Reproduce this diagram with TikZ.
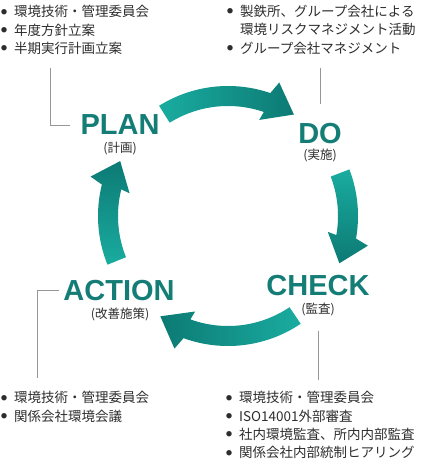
\documentclass[tikz,border=0pt]{standalone}
\usepackage{fontspec}
\setmainfont{Noto Sans CJK JP}
\newfontfamily\titlefont{Liberation Sans}
\definecolor{tealdark}{RGB}{12,122,116}
\definecolor{teallight}{RGB}{26,172,160}
\definecolor{tealtext}{RGB}{20,125,118}
\definecolor{bodygray}{RGB}{45,45,45}
\definecolor{leadgray}{RGB}{150,150,150}
\newcommand{\dotitem}{\makebox[13pt][l]{\raisebox{2.6pt}{\fontsize{6}{6}\selectfont ●}}}
\newcommand{\dotskip}{\hspace*{13pt}}
\begin{document}
\begin{tikzpicture}[x=1pt, y=1pt]
    \tikzstyle{title} = [anchor=base, inner sep=0, text=tealtext, font=\titlefont\bfseries\fontsize{29}{29}\selectfont]
    \tikzstyle{sub} = [anchor=base, inner sep=0, text=bodygray, font=\fontsize{12.5}{14}\selectfont]
    \tikzstyle{list} = [anchor=north west, inner sep=0, align=left, text=bodygray, font=\fontsize{13.5}{18.4}\selectfont]
    \tikzstyle{lead} = [draw=leadgray, line width=0.9pt]
    \tikzstyle{cyc} = [top color=tealdark, bottom color=teallight]
    \useasboundingbox (0,0) rectangle (420,-465);
    % cycle arrows
    \coordinate (hub) at (228,-216);
    \begin{scope}[shift={(hub)}]
    \foreach \a/\b/\c/\s in {122/71/57/-90, 21/-10/-23/180, -56/-110/-124/90, 202/166/153/0}
        \shade[cyc, shading angle=\s] (\a:110pt) arc[start angle=\a, end angle=\b, radius=110pt]
            -- ({\b+1}:101pt) -- (\c:121pt) -- ({\b-2}:143pt) -- (\b:130pt)
            arc[start angle=\b, end angle=\a, radius=130pt] -- cycle;
    \end{scope}
    % stages
    \node[title] (plan) at (120,-135) {PLAN};
    \node[title] (do) at (320,-143) {DO};
    \node[title] (check) at (318,-295) {CHECK};
    \node[title] (action) at (119,-300) {ACTION};
    \node[sub] (plan-sub) at (120,-153) {(計画)};
    \node[sub] (do-sub) at (320,-160) {(実施)};
    \node[sub] (check-sub) at (318,-313) {(監査)};
    \node[sub] (action-sub) at (120,-318) {(改善施策)};
    % lists
    \node[list] (plan-list) at (1,-5) {\dotitem 環境技術・管理委員会\\ \dotitem 年度方針立案\\ \dotitem 半期実行計画立案};
    \node[list] (do-list) at (227,-5) {\dotitem 製鉄所、グループ会社による\\ \dotskip 環境リスクマネジメント活動\\ \dotitem グループ会社マネジメント};
    \node[list] (action-list) at (1,-391) {\dotitem 環境技術・管理委員会\\ \dotitem 関係会社環境会議};
    \node[list] (check-list) at (226,-391) {\dotitem 環境技術・管理委員会\\ \dotitem ISO14001外部審査\\ \dotitem 社内環境監査、所内内部監査\\ \dotitem 関係会社内部統制ヒアリング};
    % leaders
    \coordinate (plan-lead) at (50,-68);
    \coordinate (do-lead) at (320,-68);
    \coordinate (check-lead) at (318,-380);
    \coordinate (action-lead) at (37,-378);
    \draw[lead, shorten >=10pt] (plan-lead) |- (plan.west);
    \draw[lead, shorten >=19pt] (do-lead) -- (do);
    \draw[lead, shorten <=15pt] (check-sub) -- (check-lead);
    \draw[lead, shorten <=4pt] (action.west) -| (action-lead);
\end{tikzpicture}
\end{document}
